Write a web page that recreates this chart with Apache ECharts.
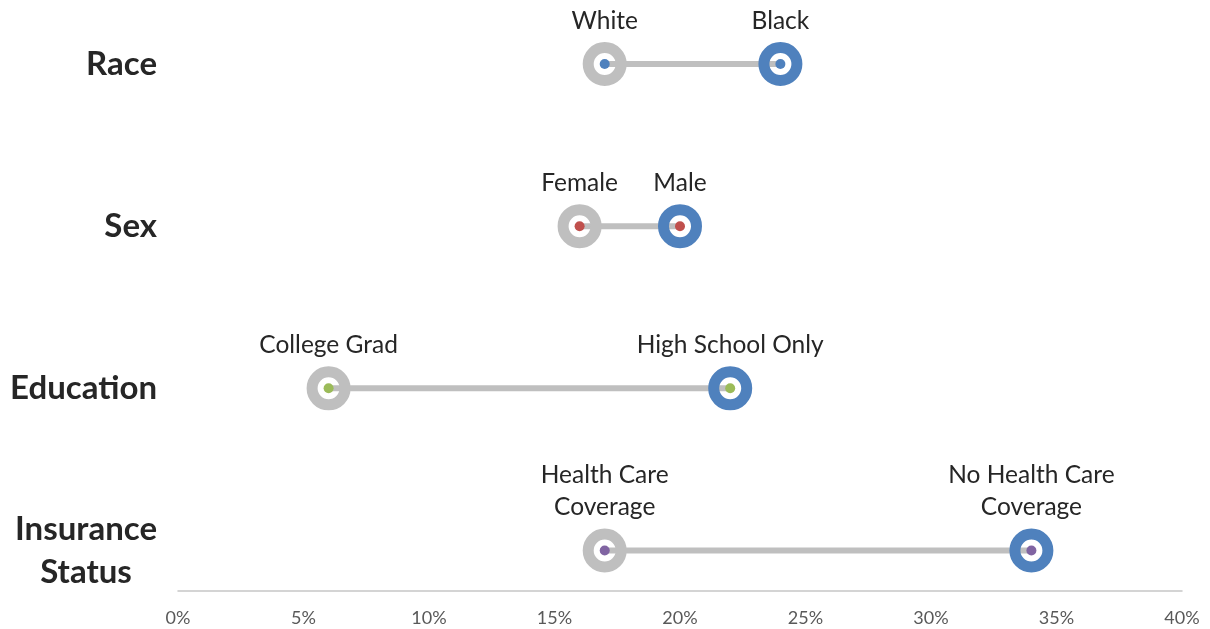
<!DOCTYPE html>
<html>
<head>
<meta charset="utf-8">
<script src="https://cdn.jsdelivr.net/npm/echarts@6/dist/echarts.min.js"></script>
<style>
  html, body { margin: 0; padding: 0; background: #fff; }
  #chart { width: 1210px; height: 629px; }
</style>
</head>
<body>
<div id="chart"></div>
<script>
// Group names, listed top to bottom
const categories = ['Race', 'Sex', 'Education', 'Insurance Status'];
// Lower-rate subgroup in each group (grey ring)
const lowLabels = ['White', 'Female', 'College Grad', 'Health Care\nCoverage'];
const lowValues = [17, 16, 6, 17];
// Higher-rate subgroup in each group (blue ring)
const highLabels = ['Black', 'Male', 'High School Only', 'No Health Care\nCoverage'];
const highValues = [24, 20, 22, 34];
// Centre dot colour per group
const dotColors = ['#4F81BD', '#C0504D', '#9BBB59', '#8064A2'];
// Percent axis ticks
const xTicks = [0, 5, 10, 15, 20, 25, 30, 35, 40];

// Row positions on the vertical value axis: first group on top
const rowY = categories.map((_, i) => categories.length - i);

const FONT = 'Lato, "Open Sans", sans-serif';
const GREY = '#BFBFBF';
const BLUE = '#4F81BD';
const TEXT = '#262626';

const ringStyle = (color) => ({
  color: 'rgba(0,0,0,0)',
  borderColor: color,
  borderWidth: 11,
  opacity: 1
});

const ringLabel = {
  show: true,
  position: 'top',
  distance: 5,
  fontFamily: FONT,
  fontSize: 24.5,
  lineHeight: 32,
  color: TEXT,
  align: 'center'
};

const chart = echarts.init(document.getElementById('chart'), null, { renderer: 'canvas' });

chart.setOption({
  animation: false,
  backgroundColor: '#ffffff',
  grid: { left: 178, right: 28, top: 23.5, bottom: 38, containLabel: false },
  xAxis: {
    type: 'value',
    min: xTicks[0],
    max: xTicks[xTicks.length - 1],
    interval: 5,
    axisLine: { show: true, lineStyle: { color: '#C6C6C6', width: 1.5 } },
    axisTick: { show: false },
    splitLine: { show: false },
    axisLabel: {
      formatter: '{value}%',
      fontFamily: FONT,
      fontSize: 18,
      color: '#595959',
      margin: 18
    }
  },
  yAxis: {
    type: 'value',
    min: 0.75,
    max: 4.25,
    show: false
  },
  series: [
    // Connector bars between the two subgroups of each row
    {
      type: 'custom',
      z: 1,
      silent: true,
      data: categories.map((c, i) => [lowValues[i], highValues[i], rowY[i]]),
      renderItem: (params, api) => {
        const a = api.coord([api.value(0), api.value(2)]);
        const b = api.coord([api.value(1), api.value(2)]);
        return {
          type: 'line',
          shape: { x1: a[0], y1: a[1], x2: b[0], y2: b[1] },
          style: { stroke: GREY, lineWidth: 6 }
        };
      }
    },
    // Group names to the left of the plot
    {
      type: 'scatter',
      z: 2,
      silent: true,
      symbolSize: 0,
      itemStyle: { opacity: 1 },
      data: categories.map((c, i) => ({ value: [0, rowY[i]], name: c })),
      label: {
        show: true,
        position: 'left',
        distance: 21,
        formatter: (p) => p.name === 'Insurance Status'
          ? '{a|Insurance}\n{a|Status}'
          : '{a|' + p.name + '}',
        rich: {
          a: { fontFamily: FONT, fontWeight: 'bold', fontSize: 33, lineHeight: 43, color: TEXT, align: 'center' }
        }
      }
    },
    // Lower subgroup rings
    {
      type: 'scatter',
      z: 3,
      symbol: 'circle',
      symbolSize: 33,
      itemStyle: ringStyle(GREY),
      data: categories.map((c, i) => ({ value: [lowValues[i], rowY[i]], name: lowLabels[i] })),
      label: Object.assign({}, ringLabel, { formatter: (p) => p.name })
    },
    // Higher subgroup rings
    {
      type: 'scatter',
      z: 3,
      symbol: 'circle',
      symbolSize: 33,
      itemStyle: ringStyle(BLUE),
      data: categories.map((c, i) => ({ value: [highValues[i], rowY[i]], name: highLabels[i] })),
      label: Object.assign({}, ringLabel, { formatter: (p) => p.name })
    },
    // Centre dots
    {
      type: 'scatter',
      z: 4,
      symbol: 'circle',
      symbolSize: 10,
      data: categories.flatMap((c, i) => [
        { value: [lowValues[i], rowY[i]], itemStyle: { color: dotColors[i], opacity: 1 } },
        { value: [highValues[i], rowY[i]], itemStyle: { color: dotColors[i], opacity: 1 } }
      ])
    }
  ]
});
</script>
</body>
</html>
